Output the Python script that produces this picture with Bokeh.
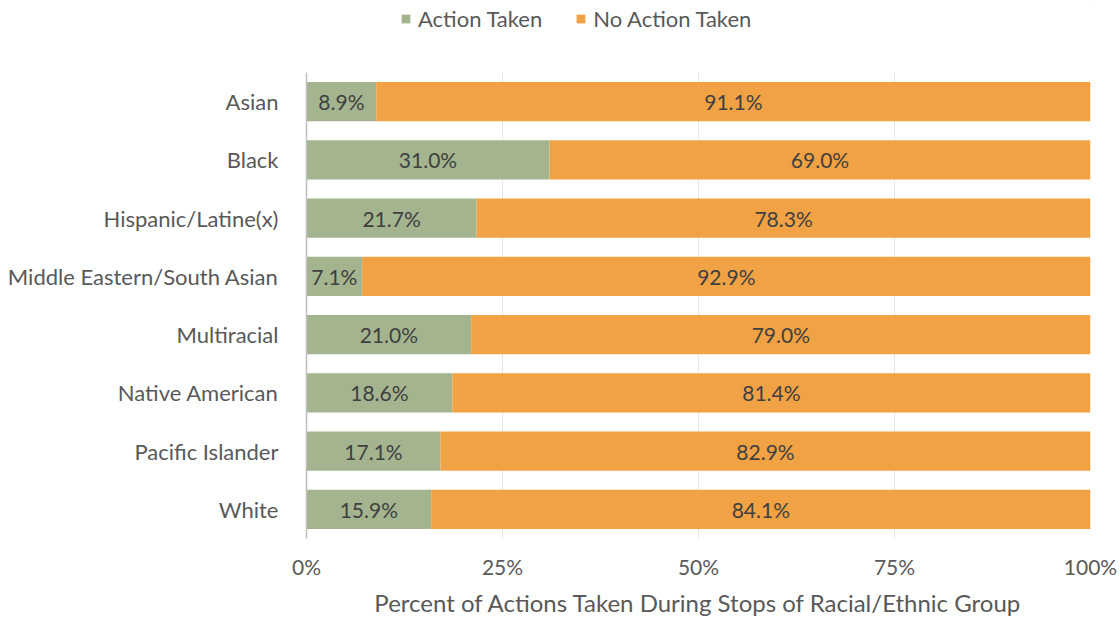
from bokeh.plotting import figure
from bokeh.models import (ColumnDataSource, Legend, LegendItem, FixedTicker, Range1d,
                          FactorRange, Title)
from bokeh.layouts import column
from bokeh.core.properties import value
from bokeh.embed import file_html
from bokeh.resources import INLINE

groups = ["Asian", "Black", "Hispanic/Latine(x)", "Middle Eastern/South Asian",
          "Multiracial", "Native American", "Pacific Islander", "White"]
action_taken = [8.9, 31.0, 21.7, 7.1, 21.0, 18.6, 17.1, 15.9]
no_action_taken = [91.1, 69.0, 78.3, 92.9, 79.0, 81.4, 82.9, 84.1]
series_names = ["Action Taken", "No Action Taken"]
tick_values = [0, 25, 50, 75, 100]
tick_labels = ["0%", "25%", "50%", "75%", "100%"]
x_title = "Percent of Actions Taken During Stops of Racial/Ethnic Group"

GREEN = "#A3B48F"
ORANGE = "#F1A244"
COLORS = [GREEN, ORANGE]
FONT = "Lato"
GREY = "#595959"

src = ColumnDataSource(dict(
    group=groups,
    action=action_taken,
    noaction=no_action_taken,
    a_mid=[a / 2 for a in action_taken],
    n_mid=[a + n / 2 for a, n in zip(action_taken, no_action_taken)],
    a_lab=[f"{a:.1f}%" for a in action_taken],
    n_lab=[f"{n:.1f}%" for n in no_action_taken],
))

W = 1118
TOP_H = 72
H = 549
FL, FR = 306, 1090
FB = 538 - TOP_H  # frame bottom inside main figure

# ---- legend strip on top ----
lg = figure(width=W, height=TOP_H, output_backend="svg", toolbar_location=None,
            x_range=Range1d(0, 1), y_range=Range1d(0, 1),
            x_axis_type=None, y_axis_type=None, min_border=0)
lg.outline_line_color = None
lg.xgrid.visible = False
lg.ygrid.visible = False
# swatch carriers, placed outside the visible range
dummy = [lg.hbar(y=[5], left=[5], right=[6], height=0.5, color=c, line_color=None)
         for c in COLORS]
legend = Legend(items=[LegendItem(label=series_names[i], renderers=[dummy[i]]) for i in range(2)],
                orientation="horizontal", location=(400 - FL, TOP_H - 32),
                label_text_font=FONT, label_text_font_size="22px", label_text_color=GREY,
                label_height=22, glyph_width=11, glyph_height=11, spacing=33,
                border_line_color=None, background_fill_alpha=0, padding=0, margin=0,
                label_standoff=7)
lg.add_layout(legend)

# ---- main chart ----
p = figure(width=W, height=H, output_backend="svg", toolbar_location=None,
           y_range=FactorRange(factors=list(reversed(groups))),
           x_range=Range1d(0, 100),
           min_border_left=FL, min_border_right=W - FR, min_border_top=0,
           min_border_bottom=H - FB)

p.hbar_stack(["action", "noaction"], y="group", height=0.67, color=COLORS,
             line_color=None, source=src)

for xcol, tcol in (("a_mid", "a_lab"), ("n_mid", "n_lab")):
    p.text(x=xcol, y="group", text=tcol, source=src, text_align="center",
           text_baseline="middle", text_font=value(FONT), text_font_size="21px",
           text_color="#404040")

p.ygrid.visible = False
p.xgrid.ticker = FixedTicker(ticks=tick_values)
p.xgrid.grid_line_color = "#E6E6E6"
p.outline_line_color = None

xa = p.xaxis[0]
xa.ticker = FixedTicker(ticks=tick_values)
xa.major_label_overrides = {v: l for v, l in zip(tick_values, tick_labels)}
xa.axis_line_color = None
xa.major_tick_line_color = None
xa.minor_tick_line_color = None
xa.major_label_text_font = FONT
xa.major_label_text_font_size = "21px"
xa.major_label_text_color = GREY
xa.major_label_standoff = 9

ya = p.yaxis[0]
ya.axis_line_color = "#BFBFBF"
ya.axis_line_width = 1.5
ya.major_tick_line_color = None
ya.minor_tick_line_color = None
ya.major_label_text_font = FONT
ya.major_label_text_font_size = "22px"
ya.major_label_text_color = GREY
ya.major_label_standoff = 22

p.add_layout(Title(text=x_title, align="center", text_font=FONT, text_font_size="24px",
                   text_font_style="normal", text_color=GREY, standoff=9), "below")

layout = column(lg, p, spacing=0)
open("out.html", "w").write(file_html(layout, INLINE))
